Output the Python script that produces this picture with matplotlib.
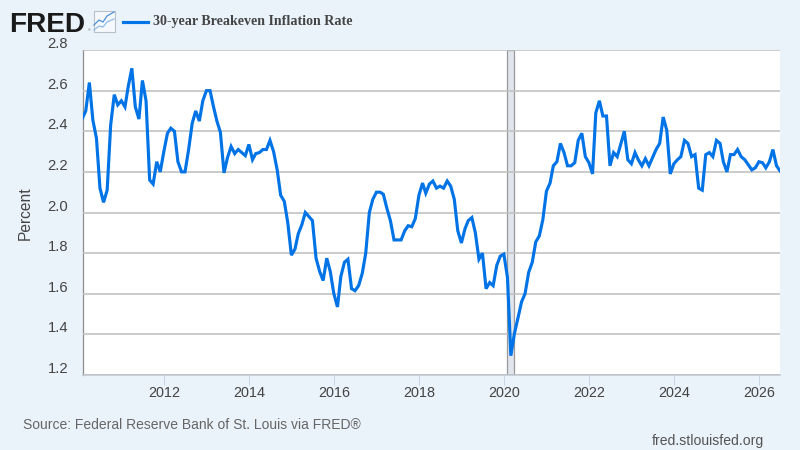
import matplotlib
matplotlib.use("Agg")
import matplotlib.pyplot as plt
import matplotlib.dates as mdates
import pandas as pd
from matplotlib.lines import Line2D
from matplotlib.patches import Rectangle

# Monthly values, Feb 2010 - Jul 2026
v2010 = [2.465, 2.50, 2.64, 2.455, 2.365, 2.12, 2.05, 2.11, 2.43, 2.58, 2.53]
v2011 = [2.55, 2.52, 2.62, 2.71, 2.52, 2.46, 2.65, 2.55, 2.16, 2.14, 2.25, 2.20]
v2012 = [2.30, 2.39, 2.415, 2.40, 2.25, 2.20, 2.20, 2.31, 2.44, 2.50, 2.45, 2.55]
v2013 = [2.60, 2.60, 2.525, 2.45, 2.395, 2.195, 2.27, 2.325, 2.29, 2.31, 2.295, 2.28]
v2014 = [2.335, 2.26, 2.29, 2.295, 2.31, 2.31, 2.355, 2.30, 2.21, 2.085, 2.055, 1.95]
v2015 = [1.79, 1.82, 1.895, 1.94, 2.00, 1.98, 1.96, 1.775, 1.71, 1.665, 1.775, 1.71]
v2016 = [1.60, 1.535, 1.685, 1.755, 1.77, 1.625, 1.615, 1.64, 1.70, 1.80, 2.00, 2.065]
v2017 = [2.10, 2.10, 2.09, 2.02, 1.96, 1.865, 1.865, 1.865, 1.91, 1.935, 1.93, 1.97]
v2018 = [2.085, 2.145, 2.095, 2.14, 2.155, 2.12, 2.13, 2.12, 2.155, 2.13, 2.065, 1.91]
v2019 = [1.85, 1.92, 1.96, 1.975, 1.90, 1.77, 1.80, 1.625, 1.655, 1.64, 1.74, 1.785]
v2020 = [1.795, 1.68, 1.295, 1.405, 1.48, 1.56, 1.60, 1.705, 1.755, 1.855, 1.885, 1.965]
v2021 = [2.105, 2.145, 2.23, 2.25, 2.34, 2.295, 2.23, 2.23, 2.245, 2.355, 2.39, 2.275]
v2022 = [2.245, 2.19, 2.49, 2.55, 2.475, 2.475, 2.23, 2.295, 2.275, 2.335, 2.40, 2.26]
v2023 = [2.24, 2.295, 2.26, 2.23, 2.265, 2.23, 2.27, 2.31, 2.34, 2.47, 2.405, 2.19]
v2024 = [2.24, 2.26, 2.275, 2.355, 2.34, 2.275, 2.285, 2.12, 2.11, 2.285, 2.295, 2.275]
v2025 = [2.355, 2.34, 2.25, 2.20, 2.285, 2.285, 2.31, 2.275, 2.26, 2.235, 2.21, 2.22]
v2026 = [2.25, 2.245, 2.22, 2.25, 2.31, 2.23, 2.205]

values = (v2010 + v2011 + v2012 + v2013 + v2014 + v2015 + v2016 + v2017 + v2018
          + v2019 + v2020 + v2021 + v2022 + v2023 + v2024 + v2025 + v2026)
dates = pd.date_range("2010-02-01", periods=len(values), freq="MS")

y_ticks = [1.2, 1.4, 1.6, 1.8, 2.0, 2.2, 2.4, 2.6, 2.8]
x_years = [2012, 2014, 2016, 2018, 2020, 2022, 2024, 2026]
recession = ("2020-02-01", "2020-04-01")
series_name = "30-year Breakeven Inflation Rate"

BG = "#eaf2fa"
BLUE = "#0073e6"
GRID = "#c0c0c0"
TXT = "#444444"
W, H = 800, 450

plt.rcParams["font.family"] = ["Liberation Sans", "DejaVu Sans"]
fig = plt.figure(figsize=(8, 4.5), dpi=100, facecolor=BG)
ax = fig.add_axes([82.5 / W, 1 - 375 / H, (780 - 82.5) / W, (375 - 50) / H])
ax.set_facecolor("white")

ax.axvspan(pd.Timestamp(recession[0]), pd.Timestamp(recession[1]), facecolor="#e1e5ec",
           edgecolor="#98999c", linewidth=0.9, zorder=1)
ax.set_yticks(y_ticks)
ax.yaxis.grid(True, color=GRID, linewidth=1.15, zorder=2)
ax.set_axisbelow(False)
ax.plot(dates, values, color=BLUE, linewidth=2.25, solid_joinstyle="miter", zorder=3)

ax.set_xlim(dates[0], dates[-1])
ax.set_ylim(1.2, 2.8)
ax.set_xticks([pd.Timestamp(f"{y}-01-01") for y in x_years])
ax.xaxis.set_major_formatter(mdates.DateFormatter("%Y"))

ax.tick_params(axis="y", length=0, labelleft=False)
ax.tick_params(axis="x", length=7, width=0.7, color="#c8d6e6", labelsize=10.4, pad=1)
for t in ax.get_xticklabels():
    t.set_color(TXT)
for s in ("top", "right"):
    ax.spines[s].set_visible(False)
ax.spines["left"].set_color("#8c8c8c")
ax.spines["left"].set_linewidth(0.9)
ax.spines["bottom"].set_color("#c0c8d4")
ax.spines["bottom"].set_linewidth(1.15)

# y labels sit just above their gridlines
for v in y_ticks:
    ax.annotate(f"{v:.1f}", xy=(0, v), xycoords=("axes fraction", "data"),
                xytext=(-10.4, 4.3), textcoords="offset points", ha="right", va="center",
                fontsize=10.6, color=TXT, annotation_clip=False)

def ftext(x, y, s, **kw):
    return fig.text(x / W, 1 - y / H, s, **kw)

ftext(25, 213, "Percent", rotation=90, ha="center", va="center", fontsize=11.2, color=TXT)
ftext(23, 425, "Source: Federal Reserve Bank of St. Louis via FRED®", ha="left", va="center",
      fontsize=10.0, color="#666666")
ftext(764, 441, "fred.stlouisfed.org", ha="right", va="center", fontsize=10.1, color="#555555")

# Header: logo wordmark, icon, legend
ftext(9.5, 32, "FRED", ha="left", va="baseline", fontsize=20.2, fontweight="bold", color="#1a1a1a")
ftext(88, 30.5, "®", ha="left", va="center", fontsize=2.5, color="#555555")
fig.add_artist(Rectangle((93.5 / W, 1 - 31.5 / H), 21 / W, 21 / H, transform=fig.transFigure,
                         facecolor="#f5f8fc", edgecolor="#b8c0c8", linewidth=0.8))
fig.add_artist(Line2D([94 / W, 99 / W, 103 / W, 107 / W, 114 / W],
                      [1 - y / H for y in (25, 20, 22, 16, 12)],
                      transform=fig.transFigure, color="#4a90d9", linewidth=0.9))
fig.add_artist(Line2D([94 / W, 99 / W, 103 / W, 107 / W, 114 / W],
                      [1 - y / H for y in (30, 26, 27, 22, 19)],
                      transform=fig.transFigure, color="#8fbce8", linewidth=0.9))
fig.add_artist(Line2D([123 / W, 148 / W], [1 - 22 / H, 1 - 22 / H], transform=fig.transFigure,
                      color=BLUE, linewidth=2.25))
ftext(153, 21.5, series_name, ha="left", va="center", fontsize=10.1, fontweight="bold",
      family=["Liberation Serif", "DejaVu Serif"], color="#444444")

fig.savefig("out.png", dpi=100, facecolor=BG)
